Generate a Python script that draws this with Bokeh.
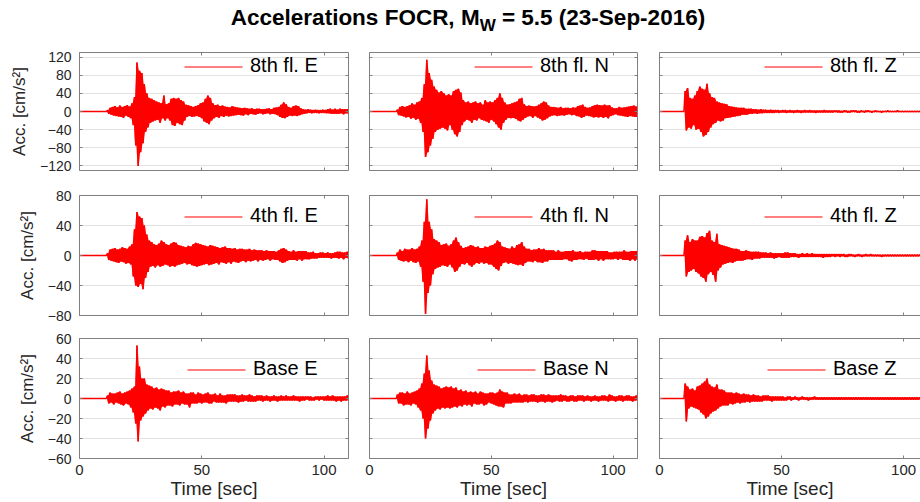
import numpy as np
from bokeh.plotting import figure
from bokeh.models import Range1d, FixedTicker, LinearAxis, Legend, LegendItem, Div, Grid
from bokeh.layouts import column, row
from bokeh.embed import file_html
from bokeh.resources import INLINE

# ---------------- text ----------------
title_main = "Accelerations FOCR, M"
title_sub = "W"
title_rest = " = 5.5 (23-Sep-2016)"
x_label = "Time [sec]"
y_label = "Acc. [cm/s²]"
labels = [["8th fl. E", "8th fl. N", "8th fl. Z"],
          ["4th fl. E", "4th fl. N", "4th fl. Z"],
          ["Base E", "Base N", "Base Z"]]

# ---------------- axes data ----------------
x_max = 110
x_ticks = [0, 50, 100]
row_ylim = [130, 80, 60]
row_yticks = [[-120, -80, -40, 0, 40, 80, 120],
              [-80, -40, 0, 40, 80],
              [-60, -40, -20, 0, 20, 40, 60]]

# ---------------- digitised records (cm/s^2) ----------------
# pre-event value at t = 0 s, then peaks read every DT seconds starting at T0
T_PRE = 0.0
T0 = 10.0
DT = 0.5

acc_8E = [0, 0,
    0, 3, -5, 8, -7, 10, -9, 12, -10, 9,
    -11, 13, -12, 10, -14, 12, -9, 14, -12, 11,
    -15, 18, -30, 32, -75, 108, -120, 90, -90, 85,
    -70, 60, -45, 40, -35, 30, -25, 28, -22, 25,
    -20, 22, -18, 20, -25, 18, -15, 35, -20, 16,
    -15, 18, -20, 28, -30, 30, -32, 28, -25, 30,
    -28, 25, -30, 22, -20, 15, -12, 14, -10, 12,
    -12, 10, -11, 12, -10, 14, -12, 18, -15, 20,
    -22, 28, -25, 35, -28, 30, -20, 18, -15, 14,
    -12, 15, -14, 12, -10, 13, -12, 11, -9, 10,
    -11, 9, -10, 12, -9, 10, -8, 9, -7, 8,
    -8, 7, -9, 8, -6, 7, -8, 6, -5, 7,
    -6, 5, -7, 6, -5, 6, -4, 5, -6, 5,
    -5, 6, -4, 7, -6, 5, -5, 8, -6, 9,
    -8, 10, -12, 15, -14, 20, -15, 16, -12, 10,
    -9, 8, -10, 12, -9, 13, -10, 12, -8, 7,
    -6, 5, -5, 4, -4, 5, -3, 4, -4, 3,
    -3, 4, -3, 3, -4, 3, -3, 4, -3, 3,
    -4, 5, -4, 6, -5, 4, -5, 6, -5, 4,
    -5, 6, -4, 5, -6, 5, -4, 5, -5]

acc_8N = [0, 0,
    0, 4, -8, 10, -9, 12, -11, 10, -13, 12,
    -12, 14, -16, 18, -14, 15, -18, 20, -16, 22,
    -25, 30, -45, 60, -100, 114, -90, 85, -75, 70,
    -60, 55, -45, 48, -40, 42, -38, 45, -35, 40,
    -38, 35, -42, 38, -30, 35, -40, 45, -50, 48,
    -55, 50, -45, 42, -30, 25, -22, 20, -18, 22,
    -20, 18, -25, 20, -18, 22, -20, 18, -15, 20,
    -18, 15, -20, 25, -22, 20, -25, 22, -18, 20,
    -22, 25, -28, 30, -35, 40, -40, 30, -25, 20,
    -18, 15, -14, 16, -15, 18, -14, 20, -16, 22,
    -20, 28, -22, 30, -18, 16, -14, 12, -11, 13,
    -10, 12, -14, 11, -10, 12, -13, 15, -16, 18,
    -20, 22, -18, 20, -15, 13, -11, 10, -9, 10,
    -8, 9, -10, 8, -9, 10, -8, 7, -9, 8,
    -7, 8, -6, 7, -8, 9, -7, 8, -10, 12,
    -11, 13, -14, 15, -12, 10, -9, 8, -10, 9,
    -11, 12, -13, 14, -12, 15, -13, 14, -12, 13,
    -14, 15, -12, 13, -15, 14, -10, 9, -8, 7,
    -6, 7, -8, 10, -9, 8, -10, 9, -11, 10,
    -12, 11, -10, 12, -11, 13, -12, 11, -12]

acc_8Z = [
    0, 45, -42, 52, -35, 30, -38, 28, -30, 35,
    -40, 45, -38, 55, -45, 50, -55, 48, -52, 61,
    -45, 40, -35, 32, -28, 30, -25, 22, -20, 20,
    -22, 18, -20, 17, -15, 16, -14, 12, -13, 11,
    -12, 10, -11, 9, -10, 8, -9, 8, -7, 8,
    -7, 6, -7, 6, -5, 6, -5, 5, -4, 5,
    -5, 4, -4, 5, -4, 4, -3, 4, -3, 3,
    -3, 4, -3, 3, -3, 3, -2, 3, -3, 2,
    -2, 3, -2, 3, -3, 2, -2, 3, -2, 2,
    -3, 2, -2, 3, -2, 2, -3, 2, -2, 3,
    -2, 2, -2, 3, -2, 2, -2, 2, -3, 2,
    -2, 2, -2, 2, -2, 3, -2, 2, -2, 2,
    -2, 2, -2, 2, -1, 2, -2, 2, -2, 1,
    -2, 2, -1, 2, -2, 1, -2, 2, -1, 2,
    -1, 2, -2, 1, -2, 2, -1, 1, -2, 2,
    -1, 2, -1, 1, -2, 1, -1, 2, -1, 1,
    -1, 1, -2, 1, -1, 1, -1, 2, -1, 1,
    -1, 1, -1, 1, -1, 2, -1, 1, -1, 1,
    -1, 1, -1, 1, -1, 1, -1, 1, -1, 1,
    -1, 1, -1, 1, -1, 1, -1, 1, -1, 1, -1]

acc_4E = [0, 0,
    0, 3, -6, 8, -7, 9, -8, 10, -9, 8,
    -10, 9, -8, 11, -9, 10, -11, 9, -10, 12,
    -12, 15, -28, 35, -40, 58, -42, 52, -38, 50,
    -45, 40, -30, 28, -22, 20, -15, 18, -14, 15,
    -16, 14, -13, 16, -15, 20, -14, 18, -12, 15,
    -13, 14, -15, 16, -14, 18, -15, 17, -13, 14,
    -12, 13, -11, 12, -10, 11, -12, 13, -11, 12,
    -13, 15, -14, 17, -15, 16, -14, 15, -13, 14,
    -12, 13, -11, 12, -13, 14, -12, 13, -11, 12,
    -10, 11, -12, 10, -9, 11, -10, 12, -11, 10,
    -9, 10, -11, 9, -8, 10, -9, 8, -10, 9,
    -8, 9, -7, 8, -9, 8, -7, 9, -8, 7,
    -7, 8, -6, 7, -8, 7, -6, 7, -7, 6,
    -6, 7, -5, 6, -7, 6, -5, 6, -6, 5,
    -6, 7, -8, 9, -10, 10, -9, 8, -7, 6,
    -6, 5, -6, 7, -6, 5, -7, 6, -5, 6,
    -7, 6, -5, 6, -5, 4, -5, 4, -4, 5,
    -4, 3, -4, 3, -3, 4, -3, 4, -3, 3,
    -3, 4, -3, 3, -4, 3, -3, 4, -3, 5,
    -4, 5, -3, 4, -5, 4, -3, 5, -4]

acc_4N = [0, 0,
    0, 4, -6, 8, -7, 6, -8, 9, -7, 8,
    -9, 8, -7, 10, -9, 8, -10, 9, -8, 12,
    -15, 20, -35, 45, -78, 75, -50, 45, -40, 35,
    -25, 22, -18, 20, -16, 18, -15, 14, -13, 15,
    -14, 16, -15, 13, -12, 15, -16, 20, -22, 24,
    -20, 18, -15, 13, -11, 10, -12, 11, -10, 12,
    -13, 14, -15, 13, -12, 11, -10, 12, -11, 10,
    -9, 10, -11, 12, -10, 11, -12, 13, -12, 14,
    -15, 16, -18, 20, -20, 18, -14, 12, -10, 11,
    -9, 10, -11, 9, -10, 12, -11, 10, -12, 14,
    -13, 15, -12, 18, -14, 12, -10, 9, -8, 9,
    -8, 7, -9, 8, -7, 8, -9, 10, -9, 8,
    -10, 9, -8, 7, -8, 7, -6, 7, -6, 7,
    -6, 5, -6, 7, -6, 5, -6, 5, -5, 6,
    -5, 6, -7, 6, -8, 7, -6, 5, -6, 5,
    -5, 6, -5, 4, -6, 5, -4, 5, -6, 5,
    -6, 7, -6, 7, -5, 6, -7, 6, -5, 6,
    -7, 6, -5, 6, -5, 4, -5, 4, -5, 5,
    -4, 5, -6, 5, -4, 5, -6, 7, -6, 5,
    -6, 5, -7, 6, -5, 6, -7, 6, -5]

acc_4Z = [
    0, 20, -28, 27, -22, 18, -20, 22, -18, 20,
    -22, 20, -24, 25, -28, 26, -30, 24, -35, 30,
    -25, 33, -22, 20, -26, 18, -35, 29, -20, 15,
    -16, 14, -12, 13, -11, 12, -10, 11, -9, 10,
    -10, 9, -8, 9, -7, 8, -7, 6, -7, 6,
    -6, 7, -5, 6, -5, 5, -6, 5, -4, 5,
    -4, 5, -4, 4, -3, 4, -3, 4, -3, 3,
    -3, 4, -3, 3, -4, 3, -3, 3, -2, 3,
    -3, 3, -3, 4, -3, 4, -3, 3, -2, 3,
    -2, 3, -2, 2, -3, 2, -2, 3, -2, 2,
    -2, 3, -2, 2, -2, 3, -2, 2, -2, 2,
    -2, 2, -2, 2, -3, 2, -2, 2, -2, 2,
    -2, 2, -1, 2, -2, 2, -1, 2, -2, 2,
    -1, 2, -2, 1, -2, 2, -1, 2, -1, 1,
    -2, 1, -1, 2, -1, 1, -2, 1, -1, 2,
    -1, 1, -1, 2, -1, 1, -1, 1, -1, 1,
    -1, 1, -2, 1, -1, 1, -1, 1, -1, 1,
    -1, 1, -1, 1, -1, 1, -1, 1, -1, 1,
    -1, 1, -1, 1, -1, 1, -1, 1, -1, 1,
    -1, 1, -1, 1, -1, 1, -1, 1, -1, 1, -1]

acc_BE = [0, 0,
    0, 3, -5, 6, -4, 5, -6, 5, -4, 6,
    -5, 7, -6, 5, -7, 6, -5, 7, -6, 8,
    -9, 10, -14, 12, -25, 53, -43, 32, -22, 20,
    -18, 20, -15, 14, -12, 13, -10, 12, -11, 10,
    -9, 11, -10, 9, -12, 10, -8, 9, -9, 8,
    -7, 8, -7, 6, -8, 7, -6, 7, -6, 8,
    -7, 6, -5, 7, -6, 5, -6, 5, -9, 6,
    -5, 6, -5, 4, -5, 6, -4, 5, -5, 4,
    -4, 5, -4, 6, -5, 4, -5, 4, -3, 5,
    -4, 3, -4, 5, -4, 3, -4, 3, -5, 4,
    -3, 4, -3, 4, -3, 4, -3, 3, -4, 3,
    -3, 4, -3, 3, -2, 3, -3, 4, -3, 3,
    -3, 2, -3, 3, -2, 3, -2, 3, -3, 2,
    -2, 3, -2, 2, -3, 2, -2, 3, -2, 2,
    -3, 2, -2, 3, -2, 2, -2, 3, -2, 2,
    -2, 2, -2, 3, -2, 2, -2, 2, -3, 2,
    -2, 2, -2, 2, -1, 2, -2, 2, -2, 1,
    -2, 2, -1, 2, -2, 2, -1, 2, -2, 2,
    -2, 3, -2, 2, -2, 3, -2, 2, -3, 2,
    -2, 2, -3, 2, -2, 2, -2, 3, -2]

acc_BN = [0, 0,
    0, 4, -5, 6, -5, 6, -7, 5, -6, 7,
    -6, 5, -7, 6, -5, 7, -6, 8, -9, 10,
    -12, 15, -20, 25, -40, 43, -30, 28, -22, 18,
    -15, 14, -12, 13, -10, 12, -11, 10, -9, 11,
    -10, 12, -9, 11, -10, 12, -9, 10, -8, 11,
    -9, 8, -7, 9, -8, 7, -6, 8, -7, 6,
    -6, 7, -8, 6, -5, 7, -6, 5, -6, 7,
    -5, 6, -7, 5, -6, 5, -4, 6, -5, 6,
    -6, 5, -7, 6, -8, 9, -8, 7, -9, 6,
    -5, 6, -5, 4, -5, 4, -4, 5, -4, 4,
    -4, 5, -4, 3, -4, 4, -3, 4, -4, 3,
    -3, 4, -3, 4, -3, 3, -4, 3, -3, 4,
    -3, 4, -4, 3, -3, 4, -3, 3, -4, 3,
    -3, 3, -2, 3, -3, 4, -3, 3, -2, 3,
    -3, 2, -3, 3, -2, 3, -3, 2, -3, 3,
    -2, 3, -2, 3, -3, 2, -2, 3, -2, 2,
    -3, 2, -2, 3, -2, 2, -3, 2, -2, 3,
    -2, 3, -2, 2, -3, 4, -2, 3, -2, 2,
    -3, 2, -2, 3, -2, 3, -3, 2, -2, 3,
    -2, 3, -2, 2, -3, 2, -2, 3, -2]

acc_BZ = [
    0, 15, -23, 12, -10, 9, -8, 10, -9, 8,
    -10, 12, -11, 13, -14, 15, -16, 17, -20, 20,
    -18, 14, -15, 12, -13, 11, -12, 14, -10, 9,
    -8, 9, -7, 8, -7, 6, -7, 6, -5, 6,
    -6, 5, -5, 6, -4, 5, -5, 4, -4, 5,
    -4, 4, -3, 4, -4, 3, -3, 4, -3, 3,
    -3, 3, -3, 2, -3, 3, -2, 3, -2, 3,
    -2, 2, -3, 2, -2, 2, -2, 2, -2, 2,
    -2, 2, -2, 1, -2, 2, -1, 2, -2, 1,
    -1, 2, -1, 1, -2, 1, -1, 2, -1, 1,
    -1, 1, -2, 1, -1, 1, -1, 2, -1, 1,
    -1, 1, -1, 1, -1, 1, -1, 1, -1, 1,
    -1, 1, -1, 1, -1, 1, -1, 1, -1, 1,
    -1, 1, -1, 1, -1, 1, -1, 1, -1, 1,
    -1, 1, -1, 1, -1, 1, -1, 1, -1, 1,
    -1, 1, -1, 1, -1, 1, -1, 1, -1, 1,
    -1, 1, -1, 1, -1, 1, -1, 1, -1, 1,
    -1, 1, -1, 1, -1, 1, -1, 1, -1, 1,
    -1, 1, -1, 1, -1, 1, -1, 1, -1, 1,
    -1, 1, -1, 1, -1, 1, -1, 1, -1, 1, -1]

records = [[acc_8E, acc_8N, acc_8Z],
           [acc_4E, acc_4N, acc_4Z],
           [acc_BE, acc_BN, acc_BZ]]

# ---------------- styling / layout ----------------
FONT = "Liberation Sans"
TXT = "#262626"
FRAME = "#808080"
GRID = "#e2e2e2"
RED = "#ff0000"

col_left = [79, 11, 11]
col_frame = [269, 268, 261]
col_right = [10, 11, 0]
nominal_frame = 268.5  # width of a full 0..110 s panel
row_top = [12, 13, 11]
row_frame = [118, 120, 120]
row_bottom = [12, 12, 44]
legend_x = [105, 105, 108]   # legend box left, px from frame left
legend_y = [93, 88, 78]      # legend box bottom, px from frame bottom
KEY_LEN = 58                 # legend key line length, px
ITEM_H = 20                  # legend row height, px


def style_axis(ax, show, size):
    ax.axis_line_color = FRAME
    ax.axis_line_width = 1
    ax.major_tick_line_color = FRAME
    ax.major_tick_in = 3
    ax.major_tick_out = 0
    ax.minor_tick_line_color = None
    ax.major_label_text_font = FONT
    ax.major_label_text_color = TXT
    if show:
        ax.major_label_text_font_size = size
    else:
        ax.major_label_text_font_size = "0px"
        ax.major_label_text_color = None
        ax.major_label_standoff = 0


rows = []
for i in range(3):
    figs = []
    for j in range(3):
        w = col_left[j] + col_frame[j] + col_right[j]
        h = row_top[i] + row_frame[i] + row_bottom[i]
        x_end = x_max * col_frame[j] / nominal_frame if j == 2 else x_max
        lim = row_ylim[i]
        p = figure(width=w, height=h, frame_width=col_frame[j], frame_height=row_frame[i],
                   min_border_left=col_left[j], min_border_right=col_right[j],
                   min_border_top=row_top[i], min_border_bottom=row_bottom[i],
                   x_range=Range1d(0, x_end), y_range=Range1d(-lim, lim),
                   x_axis_type=None, y_axis_type=None,
                   output_backend="svg", toolbar_location=None)
        p.outline_line_color = None
        p.background_fill_color = "white"
        p.border_fill_color = "white"

        yt = FixedTicker(ticks=row_yticks[i])
        xt = FixedTicker(ticks=x_ticks)
        p.add_layout(Grid(dimension=1, ticker=yt, grid_line_color=GRID, grid_line_width=1))

        bottom = LinearAxis(ticker=xt)
        style_axis(bottom, i == 2, "15px")
        if i == 2:
            bottom.major_label_standoff = 6
            bottom.axis_label = x_label
            bottom.axis_label_text_font = FONT
            bottom.axis_label_text_font_size = "19px"
            bottom.axis_label_text_font_style = "normal"
            bottom.axis_label_text_color = TXT
            bottom.axis_label_standoff = 0
        p.add_layout(bottom, "below")

        top = LinearAxis(ticker=xt)
        style_axis(top, False, "0px")
        p.add_layout(top, "above")

        left = LinearAxis(ticker=yt)
        style_axis(left, j == 0, "14px")
        if j == 0:
            left.major_label_standoff = 8
            left.axis_label = y_label
            left.axis_label_text_font = FONT
            left.axis_label_text_font_size = "17px"
            left.axis_label_text_font_style = "normal"
            left.axis_label_text_color = TXT
            left.axis_label_standoff = 8
        p.add_layout(left, "left")

        if j < 2:
            right = LinearAxis(ticker=yt)
            style_axis(right, False, "0px")
            p.add_layout(right, "right")

        vals = np.array(records[i][j], dtype=float)
        ts = T0 + DT * np.arange(len(vals))
        # solid band between successive peaks (how the dense record looks at this scale)
        hi = np.maximum(vals[:-1], vals[1:])
        lo = np.minimum(vals[:-1], vals[1:])
        p.varea(x=ts[:-1] + DT / 2, y1=lo, y2=hi, fill_color=RED, fill_alpha=1.0)
        t = np.concatenate([[T_PRE], ts])
        y = np.concatenate([[0.0], vals])
        p.line(t, y, line_color=RED, line_width=1.5)

        # legend key line, placed at the legend's glyph slot (pixel offsets -> data units)
        sx = x_end / col_frame[j]
        sy = 2 * lim / row_frame[i]
        ky = -lim + (legend_y[i] + ITEM_H / 2 + 0.5) * sy
        p.segment(x0=[legend_x[i] * sx], y0=[ky],
                  x1=[(legend_x[i] + KEY_LEN) * sx], y1=[ky],
                  line_color=RED, line_width=1)

        leg = Legend(items=[LegendItem(label=labels[i][j], renderers=[])],
                     location=(legend_x[i], legend_y[i]),
                     label_text_font=FONT, label_text_font_size="20px",
                     label_text_color="black", glyph_width=KEY_LEN, glyph_height=ITEM_H,
                     label_height=ITEM_H, label_standoff=8, padding=0, margin=0,
                     spacing=0, border_line_color=None, background_fill_alpha=0)
        p.add_layout(leg)
        figs.append(p)
    rows.append(row(*figs))

title_html = (
    '<div style="box-sizing:border-box;width:920px;padding-left:16px;padding-top:6px;'
    "text-align:center;font-family:'Liberation Sans';font-size:22.5px;font-weight:bold;"
    'line-height:24px;color:#000;white-space:nowrap">'
    + title_main
    + '<sub style="font-size:17px;vertical-align:-6px;line-height:0">' + title_sub + '</sub>'
    + title_rest + '</div>'
)
title = Div(text=title_html, width=920, height=40, margin=(0, 0, 0, 0))

layout = column(title, *rows)
open("out.html", "w").write(file_html(layout, INLINE))
